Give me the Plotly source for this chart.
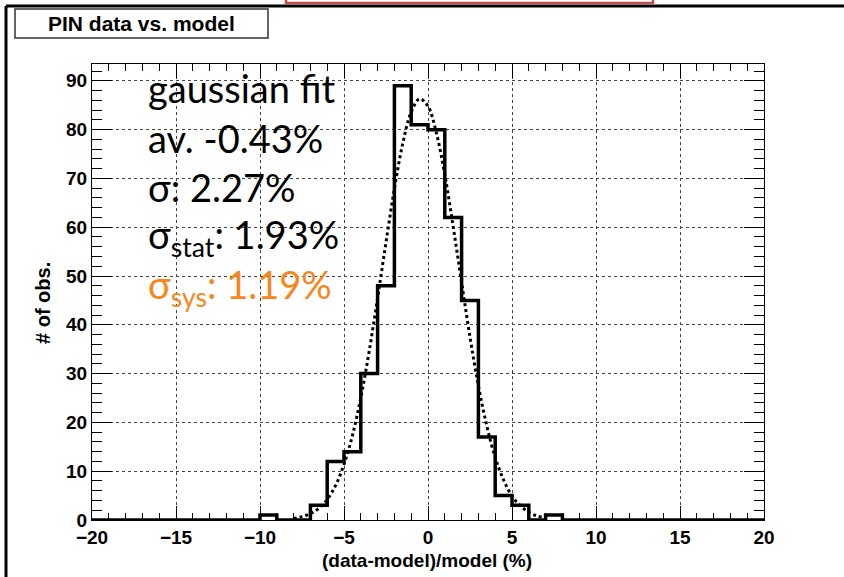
import plotly.graph_objects as go

# histogram: 1% wide bins from -20 to 20
bin_edges = list(range(-20, 21))
counts = [0, 0, 0, 0, 0, 0, 0, 0, 0, 0,
          1, 0, 0, 3, 12, 14, 30, 48, 89, 81,
          80, 62, 45, 17, 5, 3, 0, 1, 0, 0,
          0, 0, 0, 0, 0, 0, 0, 0, 0, 0]

# dotted gaussian fit
fit_x = [-8, -7.5, -7, -6.5, -6, -5.5, -5, -4.5, -4, -3.5, -3, -2.5, -2, -1.5, -1, -0.5,
         0, 0.5, 1, 1.5, 2, 2.5, 3, 3.5, 4, 4.5, 5, 5.5, 6, 6.5, 7]
fit_y = [0.3, 0.7, 1.3, 2.4, 4.2, 7.1, 11.4, 17.3, 25.1, 34.6, 45.5, 56.9, 67.9, 77.2, 83.6, 86.3,
         84.8, 79.3, 70.8, 60.1, 48.7, 37.5, 27.5, 19.3, 12.8, 8.2, 4.9, 2.9, 1.6, 0.8, 0.4]

fit_lines = ["gaussian fit", "av. -0.43%", "σ: 2.27%", "σ<sub>stat</sub>: 1.93%", "σ<sub>sys</sub>: 1.19%"]
fit_colors = ["black", "black", "black", "black", "#f7861c"]

W, H = 844, 577
L, R, T, B = 92, 764, 64, 520


def px(x):
    return (x - L) / (R - L)


def py(y):
    return (B - y) / (B - T)


fig = go.Figure()

fig.add_trace(go.Scatter(
    x=bin_edges,
    y=counts + [counts[-1]],
    mode="lines",
    line=dict(shape="hv", color="black", width=3.5),
    cliponaxis=False,
    showlegend=False,
))

fig.add_trace(go.Scatter(
    x=fit_x,
    y=fit_y,
    mode="lines",
    line=dict(shape="spline", color="black", width=3, dash="dot"),
    showlegend=False,
))

tick_font = dict(family="Liberation Sans", size=19, color="black", weight="bold")

fig.update_xaxes(
    range=[-20, 20], dtick=5, tick0=0,
    ticks="inside", ticklen=14, tickwidth=1, tickcolor="black",
    minor=dict(dtick=1, ticks="inside", ticklen=7, tickcolor="black", showgrid=False),
    showline=True, linecolor="black", linewidth=1, mirror="ticks",
    showgrid=True, gridcolor="#444", griddash="dot", gridwidth=1,
    zeroline=False, tickfont=tick_font,
)
fig.update_yaxes(
    range=[0, 93.45], dtick=10, tick0=0,
    ticks="inside", ticklen=20, tickwidth=1, tickcolor="black",
    minor=dict(dtick=2, ticks="inside", ticklen=10, tickcolor="black", showgrid=False),
    showline=True, linecolor="black", linewidth=1, mirror="ticks",
    showgrid=True, gridcolor="#444", griddash="dot", gridwidth=1,
    zeroline=False, tickfont=tick_font,
)

shapes = [
    # slide frame
    dict(type="line", xref="paper", yref="paper", x0=px(6), x1=px(W + 5), y0=py(6), y1=py(6),
         line=dict(color="black", width=3)),
    dict(type="line", xref="paper", yref="paper", x0=px(6), x1=px(6), y0=py(6), y1=py(H + 5),
         line=dict(color="black", width=3)),
    # red textbox cut at the top
    dict(type="rect", xref="paper", yref="paper", x0=px(286), x1=px(653), y0=py(-10), y1=py(3),
         line=dict(color="#c0504d", width=2.5)),
    # title box
    dict(type="rect", xref="paper", yref="paper", x0=px(15), x1=px(268), y0=py(9), y1=py(38),
         line=dict(color="#333", width=1.5), fillcolor="white"),
]

bold = dict(family="Liberation Sans", color="black", weight="bold")
annotations = [
    dict(text="PIN data vs. model", xref="paper", yref="paper", x=px(141), y=py(24),
         xanchor="center", yanchor="middle", showarrow=False, font=dict(bold, size=21)),
    dict(text="(data-model)/model (%)", xref="paper", yref="paper", x=px(427), y=py(560),
         xanchor="center", yanchor="middle", showarrow=False, font=dict(bold, size=19)),
    dict(text="# of obs.", xref="paper", yref="paper", x=px(43), y=py(303), textangle=-90,
         xanchor="center", yanchor="middle", showarrow=False, font=dict(bold, size=20)),
]

baselines = [101, 151, 200, 250, 300]
for text, color, base in zip(fit_lines, fit_colors, baselines):
    annotations.append(dict(
        text=text, xref="paper", yref="paper", x=px(146), y=py(base - 13),
        xanchor="left", yanchor="middle", showarrow=False,
        font=dict(family="Lato", size=38, color=color),
    ))

fig.update_layout(
    width=W, height=H,
    margin=dict(l=L, r=W - R, t=T, b=H - B),
    paper_bgcolor="white", plot_bgcolor="white",
    shapes=shapes, annotations=annotations,
)

# the page body has a default 8px margin; drop it so the figure fills the window
fig.write_html("out.html", config={"displayModeBar": False},
               post_script="document.body.style.margin='0px';")
